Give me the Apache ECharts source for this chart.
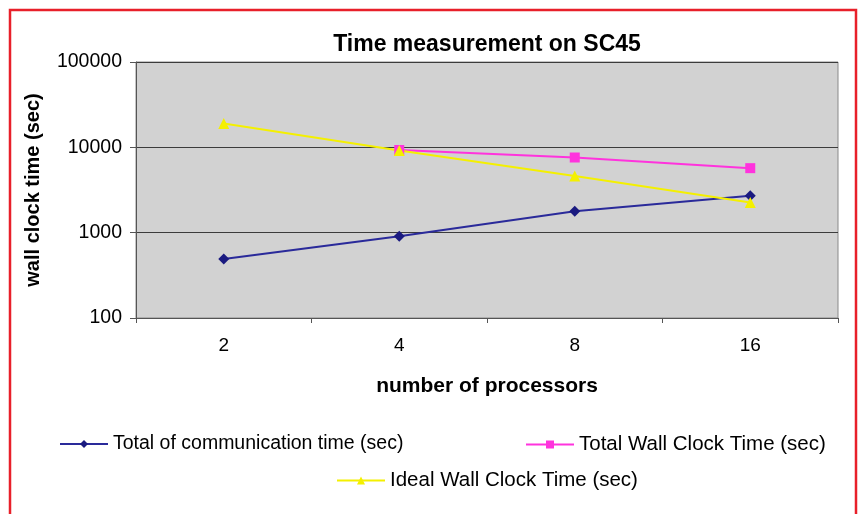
<!DOCTYPE html>
<html>
<head>
<meta charset="utf-8">
<script src="https://cdn.jsdelivr.net/npm/echarts@6/dist/echarts.min.js"></script>
<style>
  html, body { margin: 0; padding: 0; background: #fff; }
  #main { width: 864px; height: 514px; }
</style>
</head>
<body>
<div id="main"></div>
<script>
// 数据
var processors = ['2', '4', '8', '16'];
var commTime = [490, 910, 1780, 2700];       // Total of communication time (sec)
var totalWall = [null, 9300, 7600, 5700];    // Total Wall Clock Time (sec), 2 hidden under ideal
var idealWall = [19000, 9200, 4600, 2250];   // Ideal Wall Clock Time (sec)

var myChart = echarts.init(document.getElementById('main'));

var font = 'Liberation Sans, Arial, sans-serif';

var option = {
    animation: false,
    title: {
        text: 'Time measurement on SC45',
        left: 482,
        textAlign: 'center',
        top: 28,
        textStyle: { fontFamily: font, fontSize: 23, fontWeight: 'bold', color: '#000' }
    },
    graphic: [{
        type: 'rect',
        shape: { x: 10, y: 10, width: 846, height: 520 },
        style: { fill: 'none', stroke: '#e8202a', lineWidth: 2.5 }
    }],
    legend: [{
        data: ['Total of communication time (sec)'],
        left: 54, top: 429,
        itemWidth: 48, itemHeight: 10,
        textStyle: { fontFamily: font, fontSize: 19.5, color: '#000' }
    }, {
        data: ['Total Wall Clock Time (sec)'],
        left: 520, top: 429,
        itemWidth: 48, itemHeight: 10,
        textStyle: { fontFamily: font, fontSize: 20.5, color: '#000' }
    }, {
        data: ['Ideal Wall Clock Time (sec)'],
        left: 331, top: 465,
        itemWidth: 48, itemHeight: 10,
        textStyle: { fontFamily: font, fontSize: 20.5, color: '#000' }
    }],
    grid: {
        left: 136, right: 26, top: 62, bottom: 196,
        show: true,
        backgroundColor: '#d2d2d2',
        borderColor: '#8a8a8a',
        borderWidth: 1
    },
    xAxis: {
        type: 'category',
        data: processors,
        boundaryGap: true,
        name: 'number of processors',
        nameLocation: 'middle',
        nameGap: 58,
        nameTextStyle: { fontFamily: font, fontSize: 21, fontWeight: 'bold', color: '#000' },
        axisLine: { lineStyle: { color: '#555', width: 1 } },
        axisTick: { show: true, length: 5, lineStyle: { color: '#555' } },
        axisLabel: { fontFamily: font, fontSize: 19, color: '#000', margin: 18 }
    },
    yAxis: {
        type: 'log',
        logBase: 10,
        min: 100,
        max: 100000,
        name: 'wall clock time (sec)',
        nameLocation: 'middle',
        nameRotate: 90,
        nameGap: 93,
        nameTextStyle: { fontFamily: font, fontSize: 20, fontWeight: 'bold', color: '#000' },
        axisLine: { show: true, lineStyle: { color: '#555', width: 1 } },
        axisTick: { show: true, length: 6, lineStyle: { color: '#555' } },
        axisLabel: {
            fontFamily: font, fontSize: 19.5, color: '#000', margin: 14,
            formatter: function (v) { return String(Math.round(v)); }
        },
        splitLine: { show: true, lineStyle: { color: '#3c3c3c', width: 1 } }
    },
    series: [{
        name: 'Total of communication time (sec)',
        type: 'line',
        data: commTime,
        symbol: 'diamond',
        symbolSize: 11,
        itemStyle: { color: '#1a1a80' },
        lineStyle: { color: '#2a2a9a', width: 2 }
    }, {
        name: 'Total Wall Clock Time (sec)',
        type: 'line',
        data: totalWall,
        symbol: 'rect',
        symbolSize: 10,
        itemStyle: { color: '#ff33dd' },
        lineStyle: { color: '#ff33dd', width: 2 }
    }, {
        name: 'Ideal Wall Clock Time (sec)',
        type: 'line',
        data: idealWall,
        symbol: 'triangle',
        symbolSize: 11,
        itemStyle: { color: '#f4f000' },
        lineStyle: { color: '#f4f000', width: 2 }
    }]
};

myChart.setOption(option);
</script>
</body>
</html>
